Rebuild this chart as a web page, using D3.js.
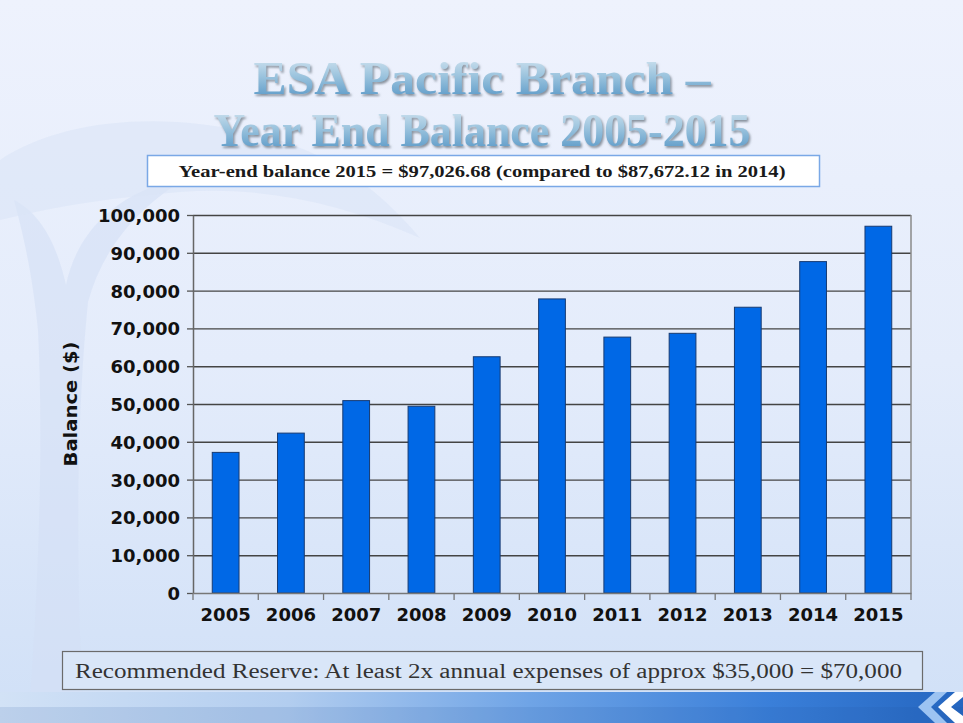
<!DOCTYPE html>
<html>
<head>
<meta charset='utf-8'>
<title>ESA Pacific Branch - Year End Balance</title>
<script src="https://d3js.org/d3.v7.min.js"></script>
<style>
  body{margin:0;padding:0;overflow:hidden;}
  .title{font-family:"Liberation Serif",serif;font-weight:bold;font-size:46px;}
  .sub{font-family:"Liberation Serif",serif;font-weight:bold;font-size:17px;fill:#1a1a1a;}
  .note{font-family:"Liberation Serif",serif;font-size:20px;fill:#333;}
  .axis text{font-family:"DejaVu Sans",sans-serif;font-weight:bold;font-size:18px;fill:#111;}
  .ylabel{font-family:"DejaVu Sans",sans-serif;font-weight:bold;font-size:18px;fill:#111;}
</style>
</head>
<body>
<script>
// data
var years=["2005","2006","2007","2008","2009","2010","2011","2012","2013","2014","2015"];
var balances=[37200,42300,50900,49400,62500,77800,67700,68700,75600,87672.12,97026.68];
var yTicks=[0,10000,20000,30000,40000,50000,60000,70000,80000,90000,100000];
var titleLines=["ESA Pacific Branch \u2013","Year End Balance 2005-2015"];
var subtitle="Year-end balance 2015 = $97,026.68 (compared to $87,672.12 in 2014)";
var footNote="Recommended Reserve: At least 2x annual expenses of approx $35,000 = $70,000";

var width=963,height=723;
var plotL=193,plotR=911,plotT=215,plotB=593;

var svg=d3.select("body").append("svg")
    .attr("width",width).attr("height",height);
var defs=svg.append("defs");

// slide background
var bg=defs.append("linearGradient").attr("id","bg").attr("x1",0).attr("y1",0).attr("x2",0).attr("y2",1);
bg.append("stop").attr("offset","0").attr("stop-color","#eef2fd");
bg.append("stop").attr("offset","0.5").attr("stop-color","#e4ecfb");
bg.append("stop").attr("offset","1").attr("stop-color","#d0e0f7");
svg.append("rect").attr("width",width).attr("height",height).attr("fill","url(#bg)");

// faint tree on the left
svg.append("path")
   .attr("d","M28,723 C38,600 44,450 38,330 C32,270 22,230 14,200 C38,212 56,240 66,285 C78,228 120,190 190,176 C142,204 104,244 88,302 C78,400 74,550 84,723 Z")
   .attr("fill","#d3e0f5").attr("opacity",0.6);
svg.append("path")
   .attr("d","M0,160 C60,120 160,110 260,135 C330,152 380,190 420,238 C340,202 260,186 180,192 C120,197 60,205 0,220 Z")
   .attr("fill","#dae5f7").attr("opacity",0.6);

// bottom band
var band=defs.append("linearGradient").attr("id","band").attr("x1",0).attr("y1",0).attr("x2",1).attr("y2",0);
band.append("stop").attr("offset","0").attr("stop-color","#d2e2f6");
band.append("stop").attr("offset","0.3").attr("stop-color","#b2cdef");
band.append("stop").attr("offset","0.55").attr("stop-color","#6fa4e6");
band.append("stop").attr("offset","0.8").attr("stop-color","#3a7fd9");
band.append("stop").attr("offset","1").attr("stop-color","#2566c0");
svg.append("rect").attr("x",0).attr("y",692).attr("width",width).attr("height",31).attr("fill","url(#band)");
svg.append("rect").attr("x",0).attr("y",707).attr("width",width).attr("height",16).attr("fill","#1d4f9a").attr("opacity",0.12);
svg.append("path").attr("d","M935,692 L918,707 L935,723 L947,723 L931,707 L947,692 Z").attr("fill","#9cc3f2");
svg.append("path").attr("d","M955,692 L938,707 L955,723 L963,723 L963,716 L951,707 L963,697 L963,692 Z").attr("fill","#ffffff");

// title with gradient fill and drop shadow
var tg=defs.append("linearGradient").attr("id","tg").attr("x1",0).attr("y1",0).attr("x2",0).attr("y2",1);
tg.append("stop").attr("offset","0").attr("stop-color","#dbe9f3");
tg.append("stop").attr("offset","0.45").attr("stop-color","#9cc4de");
tg.append("stop").attr("offset","1").attr("stop-color","#4b8fc2");
var sh=defs.append("filter").attr("id","shadow").attr("x","-5%").attr("y","-20%").attr("width","110%").attr("height","150%");
sh.append("feDropShadow").attr("dx",1.5).attr("dy",2).attr("stdDeviation",0.8)
  .attr("flood-color","#6f7a86").attr("flood-opacity",0.8);
var titleY=[94,146],titleW=[457,537];
titleLines.forEach(function(t,i){
    svg.append("text").classed("title",true)
       .attr("x",482).attr("y",titleY[i]).attr("text-anchor","middle")
       .attr("textLength",titleW[i]).attr("lengthAdjust","spacingAndGlyphs")
       .attr("fill","url(#tg)").attr("filter","url(#shadow)").text(t);
});

// subtitle box
svg.append("rect").attr("x",147.5).attr("y",155.5).attr("width",672).attr("height",31)
   .attr("fill","#ffffff").attr("stroke","#7aa8e6").attr("stroke-width",1.5);
svg.append("text").classed("sub",true).attr("x",482).attr("y",177).attr("text-anchor","middle")
   .attr("textLength",607).attr("lengthAdjust","spacingAndGlyphs").text(subtitle);

// scales
var x=d3.scaleBand().domain(years).range([plotL,plotR]).paddingInner(0.59).paddingOuter(0.295);
var y=d3.scaleLinear().domain([0,100000]).range([plotB,plotT]);

// gridlines
svg.append("g").attr("transform","translate("+plotL+",0)")
   .call(d3.axisLeft(y).tickValues(yTicks.slice(1)).tickSize(-(plotR-plotL)).tickFormat(""))
   .call(function(g){g.select(".domain").remove();})
   .selectAll("line").attr("stroke","#444").attr("stroke-width",1.4);

// right border of plot
svg.append("line").attr("x1",plotR).attr("x2",plotR).attr("y1",plotT).attr("y2",plotB)
   .attr("stroke","#8a8a8a").attr("stroke-width",1.5);

// bars
svg.append("g").selectAll("rect").data(years).enter().append("rect")
   .attr("x",function(d){return x(d);})
   .attr("y",function(d,i){return y(balances[i]);})
   .attr("width",x.bandwidth())
   .attr("height",function(d,i){return y(0)-y(balances[i]);})
   .attr("fill","#0068e6").attr("stroke","#173b72").attr("stroke-width",1);

// y axis
var yAxis=svg.append("g").attr("class","axis").attr("transform","translate("+plotL+",0)")
   .call(d3.axisLeft(y).tickValues(yTicks).tickSizeInner(6).tickSizeOuter(0).tickPadding(7)
   .tickFormat(d3.format(",")));
yAxis.select(".domain").attr("stroke","#666").attr("stroke-width",1.5);
yAxis.selectAll(".tick line").attr("stroke","#555").attr("stroke-width",1.3);
yAxis.selectAll("text").attr("dy","0.36em");

// x axis: labels at band centres, ticks at band edges
var xAxis=svg.append("g").attr("class","axis").attr("transform","translate(0,"+plotB+")")
   .call(d3.axisBottom(x).tickSize(0).tickPadding(15));
xAxis.select(".domain").attr("stroke","#777").attr("stroke-width",1.5);
xAxis.selectAll("text").attr("dy","0.71em");
var edges=years.map(function(d){return x(d)-(x.step()-x.bandwidth())/2;});
edges.push(plotR);
xAxis.selectAll(".edge").data(edges).enter().append("line")
   .attr("x1",function(d){return d;}).attr("x2",function(d){return d;})
   .attr("y1",0).attr("y2",7).attr("stroke","#777").attr("stroke-width",1.3);

// y label
svg.append("text").classed("ylabel",true)
   .attr("transform","translate(77,404) rotate(-90)").attr("text-anchor","middle")
   .attr("textLength",125).attr("lengthAdjust","spacingAndGlyphs").text("Balance ($)");

// reserve note
svg.append("rect").attr("x",62.5).attr("y",651.5).attr("width",860).attr("height",38)
   .attr("fill","#d9e6f8").attr("stroke","#6b6b6b").attr("stroke-width",1.2);
svg.append("text").classed("note",true).attr("x",75).attr("y",678)
   .attr("textLength",827).attr("lengthAdjust","spacingAndGlyphs").text(footNote);
</script>
</body>
</html>
